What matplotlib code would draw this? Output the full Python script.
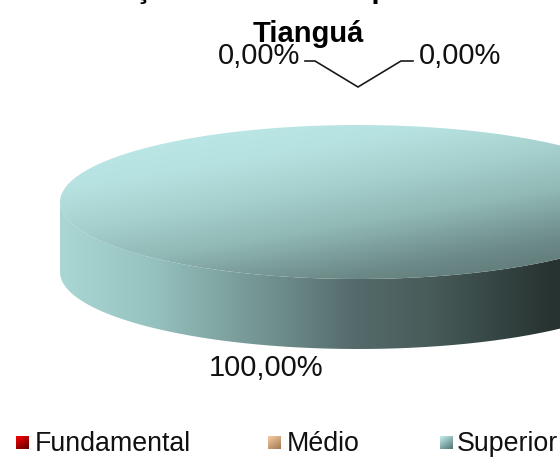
import numpy as np
import matplotlib
matplotlib.use("Agg")
import matplotlib.pyplot as plt
from matplotlib.patches import PathPatch
from matplotlib.path import Path

plt.rcParams['font.family'] = ['Liberation Sans', 'DejaVu Sans']

categories = ["Fundamental", "Médio", "Superior"]
values = [0.0, 0.0, 100.0]
value_labels = ["0,00%", "0,00%", "100,00%"]
title_lines = ["Formação de docentes por nível de ensino", "Tianguá"]

W, H = 560, 457
fig = plt.figure(figsize=(W/100, H/100), dpi=100)
ax = fig.add_axes([0, 0, 1, 1])
ax.set_xlim(0, W); ax.set_ylim(H, 0); ax.axis('off')

cx, cy, rx, ry, depth = 358, 202, 298, 77, 70

def gradient(stops, size=256, diag=False):
    xs = np.linspace(0, 1, size)
    X, Y = np.meshgrid(xs, xs)
    t = (X*0.62 + Y*0.95)/1.57 if diag else X
    pos = [s[0] for s in stops]
    return np.dstack([np.interp(t, pos, [s[1][i] for s in stops]) for i in range(3)])/255

top_stops = [(0, (190, 234, 234)), (0.25, (182, 226, 225)), (0.42, (165, 208, 205)), (0.58, (145, 185, 182)),
             (0.78, (108, 138, 136)), (1, (85, 108, 106))]
side_stops = [(0, (170, 215, 212)), (0.15, (150, 195, 192)), (0.27, (128, 165, 162)),
              (0.39, (105, 135, 133)), (0.49, (85, 107, 108)), (0.62, (72, 92, 90)),
              (0.74, (52, 68, 66)), (0.82, (41, 52, 50)), (1, (32, 42, 40))]

def sector(a0, a1, n=200):
    t = np.radians(np.linspace(a0, a1, n))
    xs = cx + rx*np.cos(t); ys = cy - ry*np.sin(t)
    return np.r_[[[cx, cy]], np.c_[xs, ys], [[cx, cy]]]

total = sum(values)
angle = 90.0
spans = []
for v in values:
    sweep = -360*v/total
    spans.append((angle, angle+sweep))
    angle += sweep

# main slice (Superior): side wall, then top face
a0, a1 = spans[2]
t = np.radians(np.linspace(180, 360, 200))
upper = np.c_[cx + rx*np.cos(t), cy - ry*np.sin(t)]
lower = np.c_[cx + rx*np.cos(t[::-1]), cy - ry*np.sin(t[::-1]) + depth]
wall = Path(np.r_[upper, lower, upper[:1]])
im = ax.imshow(gradient(side_stops), extent=(cx-rx, cx+rx, cy+ry+depth, cy), aspect='auto', zorder=1, interpolation='bilinear')
p = PathPatch(wall, fc='none', ec='none', transform=ax.transData); ax.add_patch(p); im.set_clip_path(p)

top = Path(sector(a0, a1))
im = ax.imshow(gradient(top_stops, diag=True), extent=(cx-rx, cx+rx, cy+ry, cy-ry), aspect='auto', zorder=2, interpolation='bilinear')
p = PathPatch(top, fc='none', ec='none', transform=ax.transData); ax.add_patch(p); im.set_clip_path(p)

# titles
ax.text(46, -2.5, title_lines[0], ha='left', va='baseline', fontsize=21, fontweight='bold', color='#000', clip_on=False, zorder=5)
ax.text(308.5, 42, title_lines[1], ha='center', va='baseline', fontsize=21, fontweight='bold', color='#000', zorder=5)

# data labels and leader lines
apex = (cx, cy - ry - 38)
ax.plot([305, 315, apex[0], 401, 413], [61, 61, apex[1], 61, 61], color='#1a1a1a', lw=1.2, zorder=4, solid_joinstyle='miter')
ax.text(259, 64, value_labels[0], ha='center', va='baseline', fontsize=21, color='#111', zorder=6)
ax.text(460.5, 64, value_labels[1], ha='center', va='baseline', fontsize=21, color='#111', zorder=6)
ax.text(266, 376, value_labels[2], ha='center', va='baseline', fontsize=21, color='#111', zorder=6)

# legend
key_x = [16, 268, 440]
txt_x = [35, 287, 457]
key_stops = [[(0, (250, 0, 0)), (1, (95, 0, 0))],
             [(0, (250, 205, 160)), (1, (160, 120, 85))],
             [(0, (195, 240, 240)), (1, (80, 115, 115))]]
for c, kx, tx, st in zip(categories, key_x, txt_x, key_stops):
    ax.imshow(gradient(st, size=32, diag=True), extent=(kx, kx+13, 449, 436), aspect='auto', zorder=3)
    ax.text(tx, 451, c, ha='left', va='baseline', fontsize=19.3, color='#111')
ax.set_xlim(0, W); ax.set_ylim(H, 0)

fig.savefig("out.png", dpi=100)
